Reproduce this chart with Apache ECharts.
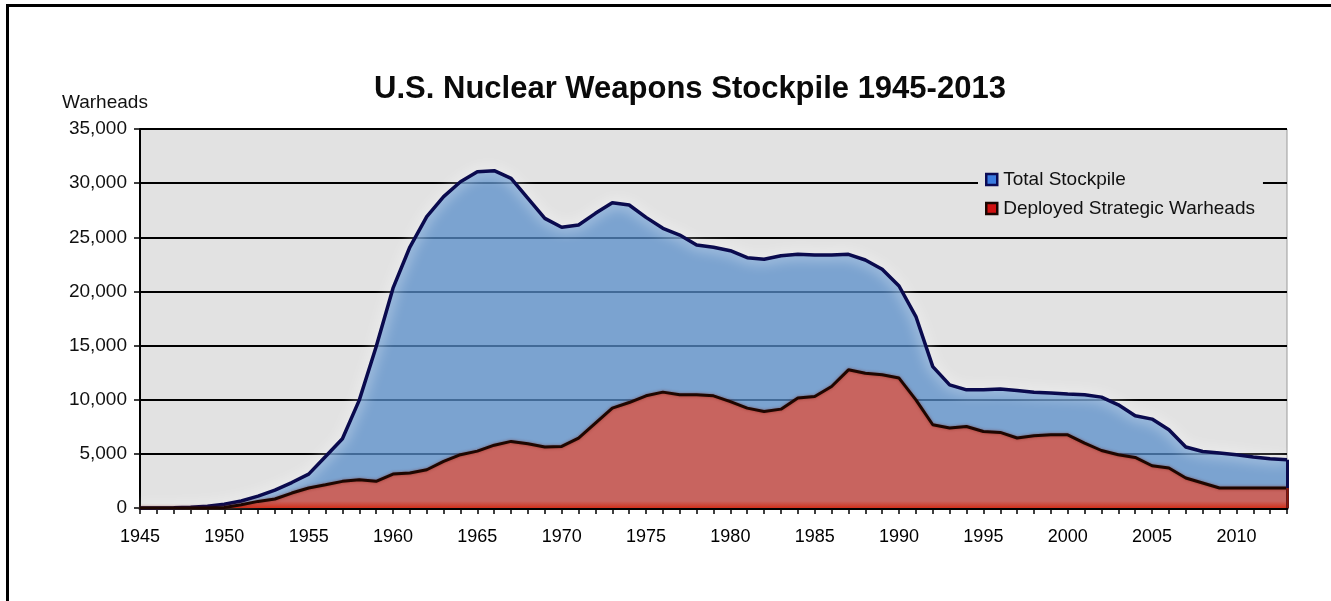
<!DOCTYPE html>
<html>
<head>
<meta charset="utf-8">
<script src="https://cdn.jsdelivr.net/npm/echarts@6/dist/echarts.min.js"></script>
<style>
  html, body { margin: 0; padding: 0; background: #ffffff; }
  #wrap { position: relative; width: 1331px; height: 601px; overflow: hidden; background: #fff; }
  #chart { position: absolute; left: 0; top: 0; width: 1331px; height: 601px; }
  #frame { position: absolute; left: 6px; top: 4px; width: 1400px; height: 700px; border: 3px solid #000; pointer-events: none; box-sizing: border-box; }
</style>
</head>
<body>
<div id="wrap">
  <div id="frame"></div>
  <div id="chart"></div>
</div>
<script>
const years = [];
for (let y = 1945; y <= 2013; y++) years.push(String(y));

const yTicks = [0, 5000, 10000, 15000, 20000, 25000, 30000, 35000];

const totalStockpile = [
  2, 10, 30, 60, 170, 350, 650, 1100, 1650, 2350,
  3130, 4760, 6400, 9960, 14900, 20300, 24100, 26900, 28750, 30130,
  31050, 31150, 30440, 28600, 26750, 25920, 26130, 27210, 28190, 27980,
  26840, 25830, 25210, 24290, 24080, 23760, 23120, 22970, 23300, 23430,
  23370, 23370, 23430, 22900, 22050, 20500, 17680, 13060, 11370, 10910,
  10910, 10980, 10850, 10700, 10610, 10520, 10450, 10240, 9530, 8515,
  8210, 7220, 5630, 5220, 5070, 4920, 4700, 4550, 4460
];

const deployedStrategic = [
  0, 0, 0, 0, 0, 50, 300, 610, 830, 1380,
  1845, 2150, 2460, 2610, 2460, 3135, 3230, 3530, 4300, 4920,
  5250, 5800, 6150, 5930, 5630, 5690, 6460, 7840, 9225, 9740,
  10360, 10700, 10450, 10450, 10360, 9830, 9225, 8910, 9130, 10150,
  10300, 11220, 12760, 12450, 12300, 12000, 9990, 7690, 7380, 7530,
  7070, 6980, 6460, 6670, 6760, 6760, 6000, 5310, 4920, 4670,
  3900, 3690, 2770, 2310, 1845, 1845, 1845, 1845, 1845
];

const seriesNames = ['Total Stockpile', 'Deployed Strategic Warheads'];

const chart = echarts.init(document.getElementById('chart'), null, { renderer: 'canvas' });
const FONT = '"Liberation Sans", Arial, Helvetica, sans-serif';
const last = years.length - 1;

chart.setOption({
  animation: false,
  backgroundColor: 'transparent',
  title: {
    text: 'U.S. Nuclear Weapons Stockpile 1945-2013',
    left: 685,
    top: 69,
    textAlign: 'center',
    textStyle: { fontFamily: FONT, fontSize: 31, fontWeight: 'bold', color: '#0a0a0a' }
  },
  graphic: [{
    type: 'text',
    left: 62,
    top: 93,
    style: { text: 'Warheads', fontFamily: FONT, fontSize: 19, fill: '#111' }
  }],
  legend: {
    orient: 'vertical',
    left: 978,
    top: 165,
    itemWidth: 11,
    itemHeight: 11,
    itemGap: 10,
    padding: [5, 8, 5, 7],
    backgroundColor: '#e2e2e2',
    textStyle: { fontFamily: FONT, fontSize: 19, color: '#111', padding: [0, 0, 0, 1] },
    data: [
      { name: seriesNames[0], icon: 'rect', itemStyle: { color: '#3a7be0', borderColor: '#0a0a55', borderWidth: 2.5 } },
      { name: seriesNames[1], icon: 'rect', itemStyle: { color: '#d01010', borderColor: '#1a0500', borderWidth: 2.5 } }
    ]
  },
  grid: {
    left: 140, right: 44, top: 129, bottom: 93,
    show: true,
    backgroundColor: '#e2e2e2',
    borderColor: '#9a9a9a',
    borderWidth: 1
  },
  xAxis: {
    type: 'category',
    data: years,
    boundaryGap: false,
    axisLine: { show: true, lineStyle: { color: '#000', width: 3 } },
    axisTick: { show: true, interval: 0, length: 6, lineStyle: { color: '#000', width: 1.5 } },
    axisLabel: { interval: 4, margin: 20, fontFamily: FONT, fontSize: 18, color: '#000' },
    splitLine: { show: false }
  },
  yAxis: {
    type: 'value',
    min: yTicks[0],
    max: yTicks[yTicks.length - 1],
    interval: yTicks[1] - yTicks[0],
    axisLine: { show: true, lineStyle: { color: '#000', width: 2 } },
    axisTick: { show: true, length: 6, lineStyle: { color: '#000', width: 1.5 } },
    axisLabel: {
      margin: 13, fontFamily: FONT, fontSize: 19, color: '#111',
      formatter: v => v.toLocaleString('en-US')
    },
    splitLine: { show: true, lineStyle: { color: '#000', width: 2 } }
  },
  series: [
    {
      name: seriesNames[0],
      type: 'line',
      data: totalStockpile,
      symbol: 'none',
      smooth: false,
      z: 2,
      lineStyle: { color: '#0a0a4e', width: 3.5, shadowColor: 'rgba(255,255,255,1)', shadowBlur: 14 },
      itemStyle: { color: '#7aa3ce' },
      areaStyle: { color: 'rgb(88,142,201)', opacity: 0.75 },
      markLine: {
        silent: true,
        symbol: 'none',
        label: { show: false },
        lineStyle: { color: '#0a0a4e', width: 3, type: 'solid' },
        data: [[{ coord: [years[last], 0] }, { coord: [years[last], totalStockpile[last]] }]]
      }
    },
    {
      name: seriesNames[1],
      type: 'line',
      data: deployedStrategic,
      symbol: 'none',
      smooth: false,
      z: 3,
      lineStyle: { color: '#1e0600', width: 3, shadowColor: 'rgba(120,20,0,0.5)', shadowBlur: 3 },
      itemStyle: { color: '#c8645f' },
      areaStyle: {
        opacity: 1,
        color: new echarts.graphic.LinearGradient(0, 0, 0, 1, [
          { offset: 0, color: '#c8645f' },
          { offset: 0.95, color: '#c8645f' },
          { offset: 1, color: '#d2301c' }
        ])
      },
      markLine: {
        silent: true,
        symbol: 'none',
        label: { show: false },
        lineStyle: { color: '#8a1a08', width: 2.5, type: 'solid' },
        data: [[{ coord: [years[last], 0] }, { coord: [years[last], deployedStrategic[last]] }]]
      }
    }
  ]
});
</script>
</body>
</html>
